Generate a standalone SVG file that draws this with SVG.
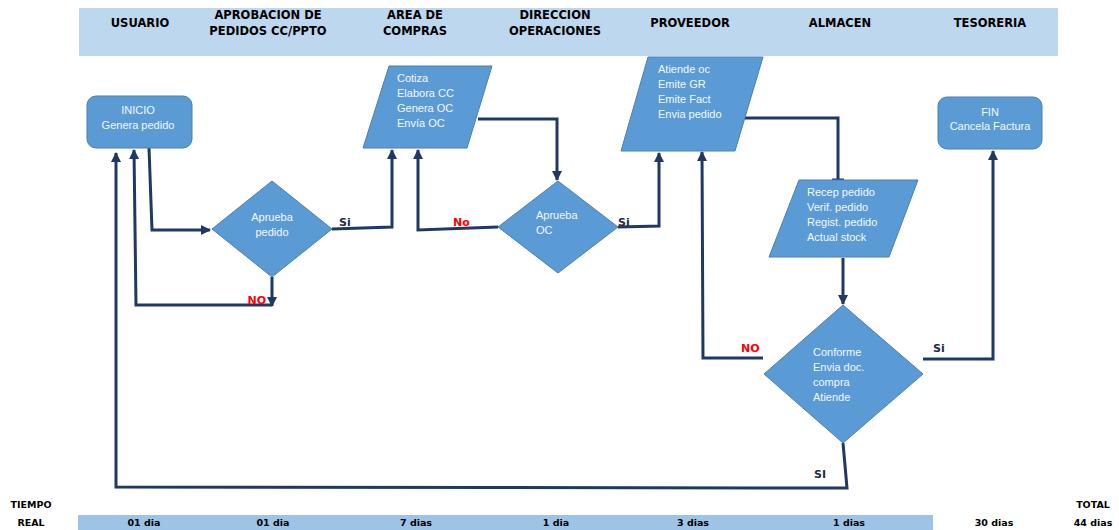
<svg xmlns="http://www.w3.org/2000/svg" width="1119" height="530" viewBox="0 0 1119 530">
<style>
.hdr{font-family:"DejaVu Sans",sans-serif;font-weight:bold;font-size:11.5px;fill:#000;text-anchor:middle}
.bot{font-family:"DejaVu Sans",sans-serif;font-weight:bold;font-size:9.5px;fill:#000;text-anchor:middle}
.node{fill:#5B9BD5;stroke:#4A7FB0;stroke-width:1}
.nt{font-family:"Liberation Sans",sans-serif;font-size:11px;fill:#F4F8FC}
.c{fill:none;stroke:#203864;stroke-width:3;stroke-linejoin:miter}
.lbl{font-family:"DejaVu Sans",sans-serif;font-weight:bold;font-size:11px;fill:#1F2A44}
.red{font-family:"DejaVu Sans",sans-serif;font-weight:bold;font-size:11px;fill:#FF0000}
</style>
<defs>
<marker id="arr" viewBox="0 0 10 10" refX="9" refY="5" markerWidth="11" markerHeight="10" markerUnits="userSpaceOnUse" orient="auto">
<path d="M0,0 L10,5 L0,10 z" fill="#203864"/>
</marker>
</defs>
<rect width="1119" height="530" fill="#fff"/>
<g id="header">
<rect x="79" y="8" width="979" height="48" fill="#BDD7EE"/>
<text class="hdr" x="140" y="27">USUARIO</text>
<text class="hdr" x="268" y="19">APROBACION DE</text>
<text class="hdr" x="268" y="35">PEDIDOS CC/PPTO</text>
<text class="hdr" x="415" y="19">AREA DE</text>
<text class="hdr" x="415" y="35">COMPRAS</text>
<text class="hdr" x="555" y="19">DIRECCION</text>
<text class="hdr" x="555" y="35">OPERACIONES</text>
<text class="hdr" x="690" y="27">PROVEEDOR</text>
<text class="hdr" x="840" y="27">ALMACEN</text>
<text class="hdr" x="990" y="27">TESORERIA</text>
</g>
<g id="footer">
<rect x="78" y="515" width="855" height="15" fill="#9DC3E6"/>
<text class="bot" x="31" y="508">TIEMPO</text>
<text class="bot" x="31" y="526">REAL</text>
<text class="bot" x="144" y="526">01 dia</text>
<text class="bot" x="273" y="526">01 dia</text>
<text class="bot" x="416" y="526">7 dias</text>
<text class="bot" x="556" y="526">1 dia</text>
<text class="bot" x="693" y="526">3 dias</text>
<text class="bot" x="849" y="526">1 dias</text>
<text class="bot" x="994" y="526">30 dias</text>
<text class="bot" x="1093" y="508">TOTAL</text>
<text class="bot" x="1093" y="526">44 dias</text>
</g>
<g id="connectors">
<path class="c" d="M149,148 L152,230 L210,230" stroke="#1F4E79" marker-end="url(#arr)"/>
<path class="c" d="M272,277 L272,306" marker-end="url(#arr)"/>
<path class="c" d="M272,305 L136,305 L134,150" marker-end="url(#arr)"/>
<path class="c" d="M332,229 L392,227 L392,150" marker-end="url(#arr)"/>
<path class="c" d="M478,119 L557,119 L557,180" marker-end="url(#arr)"/>
<path class="c" d="M498,227 L418,230 L418,150" marker-end="url(#arr)"/>
<path class="c" d="M618,227 L659,226 L659,153" marker-end="url(#arr)"/>
<path class="c" d="M745,118 L838,118 L838,180"/>
<path class="c" d="M832,180 L844,180" stroke-width="2"/>
<path class="c" d="M843,258 L843,304" marker-end="url(#arr)"/>
<path class="c" d="M763,358 L703,358 L702,152" marker-end="url(#arr)"/>
<path class="c" d="M923,359 L993,359 L993,151" marker-end="url(#arr)"/>
<path class="c" d="M843,443 L847,488 L116,487 L116,153" marker-end="url(#arr)"/>
<text class="red" x="266" y="304" text-anchor="end">NO</text>
<text class="lbl" x="339" y="226">Si</text>
<text class="red" x="453" y="226">No</text>
<text class="lbl" x="618" y="226">Si</text>
<text class="red" x="741" y="352">NO</text>
<text class="lbl" x="933" y="352">Si</text>
<text class="lbl" x="814" y="478">SI</text>
</g>
<g id="inicio">
<rect class="node" x="87" y="96" width="105" height="52" rx="9"/>
<text class="nt" x="138" y="114" text-anchor="middle">INICIO</text>
<text class="nt" x="138" y="129" text-anchor="middle">Genera pedido</text>
</g>
<g id="aprueba-pedido">
<polygon class="node" points="272,181 332,229 272,277 212,229"/>
<text class="nt" x="272" y="221" text-anchor="middle">Aprueba</text>
<text class="nt" x="272" y="236" text-anchor="middle">pedido</text>
</g>
<g id="compras">
<polygon class="node" points="389,66 492,66 467,148 363,148"/>
<text class="nt" x="397" y="82">Cotiza</text>
<text class="nt" x="397" y="97">Elabora CC</text>
<text class="nt" x="397" y="112">Genera OC</text>
<text class="nt" x="397" y="127">Envía OC</text>
</g>
<g id="aprueba-oc">
<polygon class="node" points="558,181 618,227 558,273 498,227"/>
<text class="nt" x="536" y="219">Aprueba</text>
<text class="nt" x="536" y="234">OC</text>
</g>
<g id="proveedor">
<polygon class="node" points="648,57 763,57 735,151 621,151"/>
<text class="nt" x="658" y="73">Atiende oc</text>
<text class="nt" x="658" y="88">Emite GR</text>
<text class="nt" x="658" y="103">Emite Fact</text>
<text class="nt" x="658" y="118">Envia pedido</text>
</g>
<g id="almacen">
<polygon class="node" points="799,180 918,180 889,257 769,257"/>
<text class="nt" x="807" y="196">Recep pedido</text>
<text class="nt" x="807" y="211">Verif. pedido</text>
<text class="nt" x="807" y="226">Regist. pedido</text>
<text class="nt" x="807" y="241">Actual stock</text>
</g>
<g id="conforme">
<polygon class="node" points="843,305 923,374 843,443 764,374"/>
<text class="nt" x="813" y="356">Conforme</text>
<text class="nt" x="813" y="371">Envia doc.</text>
<text class="nt" x="813" y="386">compra</text>
<text class="nt" x="813" y="401">Atiende</text>
</g>
<g id="fin">
<rect class="node" x="938" y="97" width="104" height="52" rx="9"/>
<text class="nt" x="990" y="116" text-anchor="middle">FIN</text>
<text class="nt" x="990" y="130" text-anchor="middle">Cancela Factura</text>
</g>
</svg>
